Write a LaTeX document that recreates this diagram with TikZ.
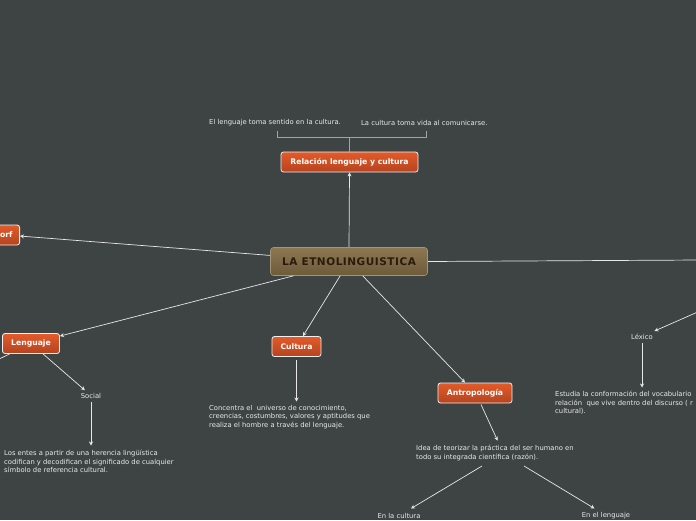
\documentclass[tikz,border=0pt]{standalone}
\usepackage{fontspec}
\setmainfont{DejaVu Sans}
\usetikzlibrary{arrows.meta}
\definecolor{bg}{HTML}{3E4444}
\definecolor{orT}{HTML}{E35B2A}
\definecolor{orB}{HTML}{B5431F}
\definecolor{brT}{HTML}{8E7852}
\definecolor{brB}{HTML}{6C5A3A}
\definecolor{brTxt}{HTML}{2A1C0C}
\definecolor{lineC}{HTML}{E6E8E8}
\definecolor{txtC}{HTML}{E8EAEA}
\definecolor{brk}{HTML}{A0A4A4}
\tikzset{
  topic/.style={draw=white!88!gray, line width=0.8pt, rounded corners=2.5pt,
    top color=orT, bottom color=orB, text=white,
    font=\fontsize{7.7}{9}\selectfont\bfseries, inner sep=0pt, minimum height=20pt},
  mainbox/.style={draw=brT!80!white, line width=0.6pt, rounded corners=3pt,
    top color=brT, bottom color=brB, text=brTxt,
    font=\fontsize{10.5}{12}\selectfont\bfseries\addfontfeature{LetterSpace=5}, inner sep=0pt},
  txt/.style={text=txtC, font=\fontsize{6.8}{8.5}\selectfont, inner sep=2.5pt, align=left},
  conn/.style={draw=lineC, line width=0.7pt},
  arr/.style={conn, -{Stealth[length=4pt,width=4pt]}}
}
\begin{document}
\begin{tikzpicture}[x=1pt,y=-1pt]
\useasboundingbox (0,0) rectangle (696,520);
\fill[bg] (0,0) rectangle (696,520);
\clip (0,0) rectangle (696,520);

% nodes
\node[mainbox, minimum width=157pt, minimum height=28pt] (main) at (349,261.5) {LA ETNOLINGUISTICA};
\node[topic, minimum width=137pt] (rel) at (349.5,162) {Relación lenguaje y cultura};
\node[topic, anchor=east, inner xsep=7pt] (wh) at (20,235) {orf};
\node[topic, minimum width=57pt] (len) at (31,343.5) {Lenguaje};
\node[topic, minimum width=49pt] (cul) at (296.5,346.5) {Cultura};
\node[topic, minimum width=74pt] (ant) at (475,393) {Antropología};

% texts
\node[txt, anchor=west] (t1) at (206.5,123) {El lenguaje toma sentido en la cultura.};
\node[txt, anchor=west] (t2) at (358.5,123) {La cultura toma vida al comunicarse.};
\node[txt] (soc) at (91,395.5) {Social};
\node[txt, anchor=north west] (entes) at (1.5,447.5) {Los entes a partir de una herencia lingüística\\codifican y decodifican el significado de cualquier\\símbolo de referencia cultural.};
\node[txt, anchor=north west] (conc) at (206.5,402.5) {Concentra el\ \ universo de conocimiento,\\creencias, costumbres, valores y aptitudes que\\realiza el hombre a través del lenguaje.};
\node[txt, anchor=north west] (idea) at (413.5,442.5) {Idea de teorizar la práctica del ser humano en\\todo su integrada científica (razón).};
\node[txt] (enc) at (399,515.5) {En la cultura};
\node[txt] (enl) at (606,515.5) {En el lenguaje};
\node[txt] (lex) at (642,336.5) {Léxico};
\node[txt, anchor=north west] (est) at (552.5,388.5) {Estudia la conformación del vocabulario\\relación\ \ que vive dentro del discurso ( r\\cultural).};

% bracket
\coordinate (bA) at (277,131);
\coordinate (bB) at (426,131);
\coordinate (bM) at (349.5,137);
\draw[brk, line width=0.7pt] (bA) |- (bB |- bM) -- (bB);
\draw[brk, line width=0.7pt] (bM) -- (rel.north);

% off-page and free-end coordinates
\coordinate (offR) at (700,260);
\coordinate (offL) at (-5,361);
\coordinate (offR2) at (700,311);
\coordinate (ideaA) at (482,466);
\coordinate (ideaB) at (524,466);
\coordinate (antS) at (481,404.5);
\coordinate (ideaT) at (498,441.5);
\coordinate (encT) at (411,508.5);
\coordinate (enlT) at (594.5,508.5);

% connectors
\draw[arr] (main.north) -- (rel.south);
\draw[arr] (main) -- (wh);
\draw[conn] (main.east) -- (offR);
\draw[arr] (main) -- (len);
\draw[arr] (main) -- (cul);
\draw[arr] (main) -- (ant);
\draw[conn] (len) -- (offL);
\draw[arr] (len) -- (soc);
\draw[arr, shorten <=1.5pt, shorten >=2pt] (soc.south) -- (soc.south |- entes.north);
\draw[arr, shorten <=3.5pt, shorten >=1pt] (cul.south) -- (cul.south |- conc.north);
\draw[arr, shorten >=1pt] (antS) -- (ideaT);
\draw[arr] (ideaA) -- (encT);
\draw[arr] (ideaB) -- (enlT);
\draw[arr] (offR2) -- (lex);
\draw[arr, shorten <=1.5pt, shorten >=1pt] (lex.south) -- (lex.south |- est.north);
\end{tikzpicture}
\end{document}
